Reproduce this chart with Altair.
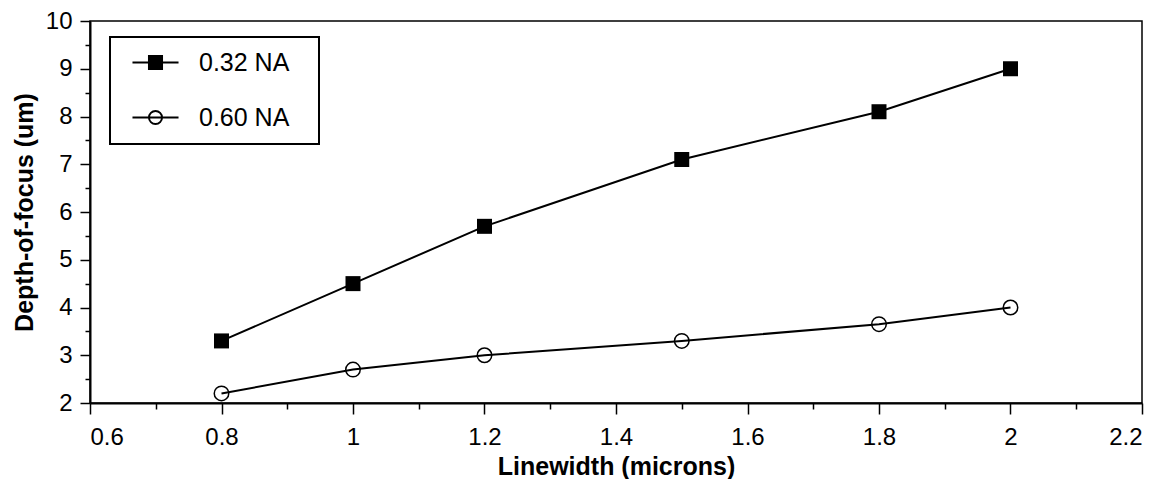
import altair as alt
import pandas as pd

# ---- data ----
linewidth = [0.8, 1.0, 1.2, 1.5, 1.8, 2.0]
dof_032 = [3.3, 4.5, 5.7, 7.1, 8.1, 9.0]
dof_060 = [2.2, 2.7, 3.0, 3.3, 3.65, 4.0]
series_names = ["0.32 NA", "0.60 NA"]
x_tick_values = [round(0.6 + 0.1 * i, 1) for i in range(17)]
y_tick_values = [2 + 0.5 * i for i in range(17)]

df = pd.DataFrame({
    "lw": linewidth + linewidth,
    "dof": dof_032 + dof_060,
    "series": [series_names[0]] * len(dof_032) + [series_names[1]] * len(dof_060),
})

FONT = "Liberation Sans"

x_enc = alt.X(
    "lw:Q",
    scale=alt.Scale(domain=[0.6, 2.2], nice=False, zero=False),
    axis=alt.Axis(
        values=x_tick_values,
        title="Linewidth (microns)",
        labelExpr="round(datum.value*10) % 2 == 0 ? '' + round(datum.value*10)/10 : ''",
        tickSize={"condition": {"test": "round(datum.value*10) % 2 == 1", "value": 6}, "value": 11},
        labelPadding=11,
        titlePadding=5,
    ),
)
y_enc = alt.Y(
    "dof:Q",
    scale=alt.Scale(domain=[2, 10], nice=False, zero=False),
    axis=alt.Axis(
        values=y_tick_values,
        title="Depth-of-focus (um)",
        labelExpr="datum.value % 1 == 0 ? '' + datum.value : ''",
        tickSize={"condition": {"test": "datum.value % 1 != 0", "value": 5}, "value": 10},
        labelPadding=8,
        titlePadding=8,
    ),
)

base = alt.Chart(df)

squares = base.transform_filter(alt.datum.series == series_names[0]).mark_point(
    shape="square", size=225, filled=True, color="black", opacity=1
).encode(x=x_enc, y=y_enc)

circles = base.transform_filter(alt.datum.series == series_names[1]).mark_point(
    shape="circle", size=210, filled=False, stroke="black", strokeWidth=1.5, opacity=1
).encode(x=x_enc, y=y_enc)

lines = base.mark_line(color="black", strokeWidth=2).encode(
    x=x_enc, y=y_enc, detail="series:N"
)

# legend symbols: a horizontal line with the marker in its middle (unit = 7.5 px)
sq_path = "M-3.07,0H3.07M-0.87,-0.87H0.87V0.87H-0.87Z"
circ_path = "M-3.07,0H3.07M0.87,0A0.87,0.87,0,1,1,-0.87,0A0.87,0.87,0,1,1,0.87,0Z"

legend_def = alt.Legend(
    title=".",
    titleOrient="right",
    titleColor="white",
    titleFontSize=25,
    titlePadding=10,
    orient="none",
    legendX=20,
    legendY=16,
    strokeColor="black",
    fillColor="white",
    padding=13,
    symbolSize=225,
    symbolOffset=20,
    symbolStrokeWidth=2,
    symbolStrokeColor="black",
    labelFont=FONT,
    labelFontSize=25,
    labelColor="black",
    labelOffset=31,
    rowPadding=29,
)

legend_layer = base.transform_filter("datum.lw < 0").mark_point(
    strokeWidth=2, filled=True, opacity=1
).encode(
    x=x_enc,
    y=y_enc,
    shape=alt.Shape(
        "series:N",
        scale=alt.Scale(domain=series_names, range=[sq_path, circ_path]),
        legend=legend_def,
    ),
    fill=alt.Fill(
        "series:N",
        scale=alt.Scale(domain=series_names, range=["black", "transparent"]),
        legend=legend_def,
    ),
    stroke=alt.Stroke(
        "series:N",
        scale=alt.Scale(domain=series_names, range=["black", "black"]),
        legend=legend_def,
    ),
)

chart = alt.layer(squares, circles, lines, legend_layer).properties(
    width=1052,
    height=382,
    padding={"left": 82, "top": 13, "right": 20, "bottom": 76},
    autosize="none",
).configure_view(
    stroke="black", strokeWidth=1.5
).configure_legend(
    strokeWidth=2
).configure_axis(
    grid=False,
    domainColor="black",
    domainWidth=2,
    tickColor="black",
    tickWidth=1.5,
    labelColor="black",
    labelFont=FONT,
    labelFontSize=24,
    titleFont=FONT,
    titleFontSize=25,
    titleFontWeight="bold",
    titleColor="black",
)

chart.save("out.html", embed_options={"renderer": "svg", "actions": False})
